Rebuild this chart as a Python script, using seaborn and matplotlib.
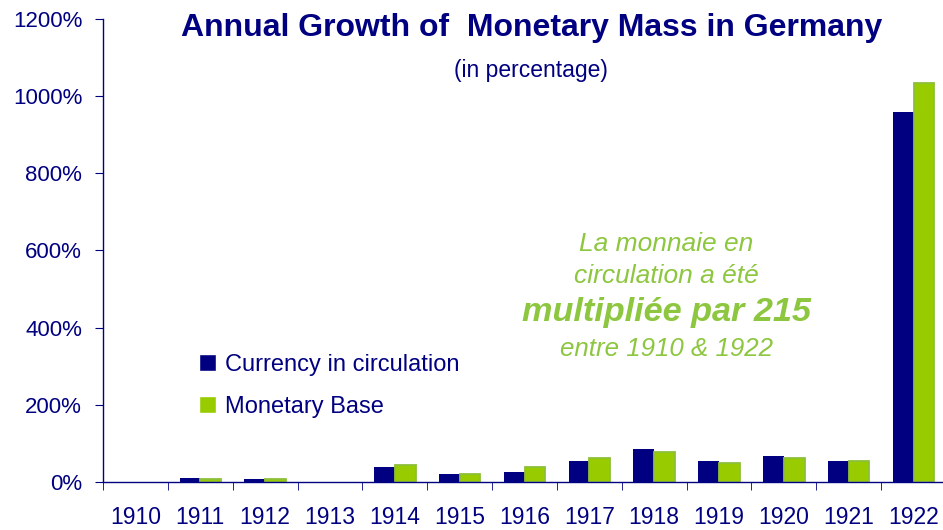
import pandas as pd
import numpy as np
import matplotlib
matplotlib.use("Agg")
import matplotlib.pyplot as plt
import seaborn as sns

years = ['1910', '1911', '1912', '1913', '1914', '1915', '1916',
         '1917', '1918', '1919', '1920', '1921', '1922']
currency = [0, 10, 9, 0, 38, 22, 27, 55, 85, 55, 67, 55, 959]
monetary_base = [0, 8, 8, 0, 44, 21, 38, 61, 78, 49, 61, 55, 1034]
series_names = ['Currency in circulation', 'Monetary Base']
y_ticks = [0, 200, 400, 600, 800, 1000, 1200]

navy = '#000080'
green = '#99CC00'
green_edge = '#8DBF3A'
text_green = '#8DC63F'

df = pd.DataFrame({
    'Year': years + years,
    'Growth': currency + monetary_base,
    'Series': [series_names[0]] * len(years) + [series_names[1]] * len(years),
})

sns.set_style('white')
plt.rcParams['font.family'] = ['Liberation Sans', 'DejaVu Sans']

fig = plt.figure(figsize=(9.43, 5.30), dpi=100)
ax = fig.add_axes([103/943, 48/530, 843/943, 463/530])

sns.barplot(
    data=df,
    x='Year',
    y='Growth',
    hue='Series',
    palette=[navy, green],
    width=0.64,
    saturation=1,
    errorbar=None,
    ax=ax
)

for p in ax.containers[0]:
    p.set_linewidth(0)
for p in ax.containers[1]:
    p.set_edgecolor(green_edge)
    # no outline on empty bars
    p.set_linewidth(1.3 if p.get_height() > 0 else 0)

ax.set_xlim(-0.5, 12.5)
ax.set_ylim(0, 1200)
ax.set_yticks(y_ticks)
ax.set_yticklabels([f'{v}%' for v in y_ticks])
ax.set_xlabel('')
ax.set_ylabel('')

ax.set_xticks(np.arange(-0.5, len(years), 1), minor=True)
ax.tick_params(axis='x', which='major', length=0, pad=17, labelsize=16.5, labelcolor=navy)
ax.tick_params(axis='x', which='minor', bottom=True, direction='out', length=6, color=navy)
ax.tick_params(axis='y', left=True, direction='out', length=6, color=navy,
               labelcolor=navy, labelsize=16, pad=9)

ax.spines[['top', 'right']].set_visible(False)
for s in ['left', 'bottom']:
    ax.spines[s].set_color(navy)
    ax.spines[s].set_linewidth(1)

handles, labels = ax.get_legend_handles_labels()
ax.legend(
    handles, labels,
    loc='upper left',
    bbox_to_anchor=(187/943, 1 - 342/530),
    bbox_transform=fig.transFigure,
    frameon=False,
    fontsize=17,
    handlelength=0.72,
    handleheight=0.72,
    handletextpad=0.4,
    labelspacing=0.85,
    borderpad=0,
    labelcolor=navy
)

fig.text(532/943, 1 - 28/530, 'Annual Growth of  Monetary Mass in Germany',
         ha='center', va='center', fontsize=23, fontweight='bold', color=navy)
fig.text(531/943, 1 - 70/530, '(in percentage)',
         ha='center', va='center', fontsize=16.5, color=navy)

cx = 666/943
fig.text(cx, 1 - 244/530, 'La monnaie en', ha='center', va='center',
         fontsize=19, style='italic', color=text_green)
fig.text(cx, 1 - 276/530, 'circulation a été', ha='center', va='center',
         fontsize=19, style='italic', color=text_green)
fig.text(cx, 1 - 313/530, 'multipliée par 215', ha='center', va='center',
         fontsize=24.7, style='italic', fontweight='bold', color=text_green)
fig.text(cx, 1 - 349/530, 'entre 1910 & 1922', ha='center', va='center',
         fontsize=18.6, style='italic', color=text_green)

fig.savefig('out.png', dpi=100)
